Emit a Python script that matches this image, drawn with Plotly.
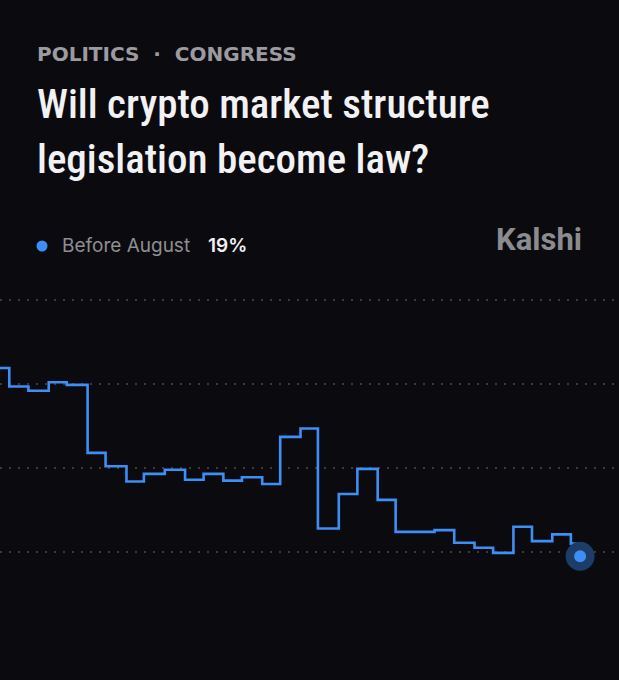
import plotly.graph_objects as go

# step chart, Kalshi market "Before August"
days = [0, 1.6, 4.9, 8.4, 11.5, 15.1, 18.2, 21.8, 24.8, 28.4, 31.9, 35.1, 38.5, 41.7, 45.2,
        48.3, 51.8, 54.8, 58.4, 61.6, 65.1, 68.2, 74.9, 78.3, 81.8, 85.0, 88.5, 91.7, 95.2,
        98.4, 99.7, 100.0]
chance = [41.9, 39.7, 39.2, 40.2, 39.9, 31.8, 30.2, 28.4, 29.3, 29.8, 28.6, 29.3, 28.5, 28.9, 28.1,
          33.7, 34.7, 22.8, 26.9, 29.9, 26.2, 22.4, 22.6, 21.1, 20.5, 19.9, 23.0, 21.3, 22.1,
          21.0, 19.5, 19.5]

category = "POLITICS  ·  CONGRESS"
title_lines = ["Will crypto market structure", "legislation become law?"]
series_name = "Before August"
current = "19%"

BG = "#0b0b0f"
BLUE = "#3d8ef5"

fig = go.Figure()
fig.add_trace(go.Scatter(x=days, y=chance, mode="lines", line=dict(color=BLUE, width=2.6, shape="hv"),
                         hoverinfo="skip"))
# end point with halo
fig.add_trace(go.Scatter(x=[days[-1]], y=[chance[-1]], mode="markers",
                         marker=dict(size=29, color="#1c3c69"), hoverinfo="skip"))
fig.add_trace(go.Scatter(x=[days[-1]], y=[chance[-1]], mode="markers",
                         marker=dict(size=12, color=BLUE), hoverinfo="skip"))

W, H = 619, 680
T, B = 258, 86


def px(x, y):
    return x / W, (H - B - y) / (H - T - B)


def note(text, x, y, size, color, family, xanchor="left", weight="normal"):
    ax, ay = px(x, y)
    fig.add_annotation(text=text, x=ax, y=ay, xref="paper", yref="paper", xanchor=xanchor,
                       yanchor="middle", showarrow=False,
                       font=dict(size=size, color=color, family=family, weight=weight))


cond = "Roboto Condensed"
note(category, 35, 54, 20, "#9b9ba0", "DejaVu Sans", weight="bold")
note(title_lines[0], 35, 104, 41, "#f2f2f4", cond, weight=500)
note(title_lines[1], 35, 159, 41, "#f2f2f4", cond, weight=500)
note(series_name, 60, 246, 19, "#8e8e93", "Inter")
note(current, 206, 246, 19, "#f2f2f4", "Inter", weight=600)
note("Kalshi", 584, 239, 31, "#8c8c90", "Roboto", xanchor="right", weight="bold")

dx, dy = px(42, 246)
fig.add_shape(type="circle", xref="paper", yref="paper", xsizemode="pixel", ysizemode="pixel",
              xanchor=dx, yanchor=dy, x0=-5.5, x1=5.5, y0=-5.5, y1=5.5,
              fillcolor=BLUE, line=dict(width=0))

fig.update_layout(
    width=W, height=H,
    margin=dict(l=0, r=0, t=T, b=B),
    paper_bgcolor=BG, plot_bgcolor=BG,
    showlegend=False,
)
fig.update_xaxes(range=[0, 106.7], visible=False, showgrid=False, fixedrange=True)
fig.update_yaxes(range=[15, 55], dtick=10, tick0=0, showticklabels=False, zeroline=False,
                 showgrid=True, gridcolor="#3a3a3f", gridwidth=1.5, griddash="2px,7px",
                 showline=False, fixedrange=True)

fig.write_html("out.html", config={"displayModeBar": False},
               post_script="document.body.style.margin='0';document.body.style.background='#0b0b0f';")
